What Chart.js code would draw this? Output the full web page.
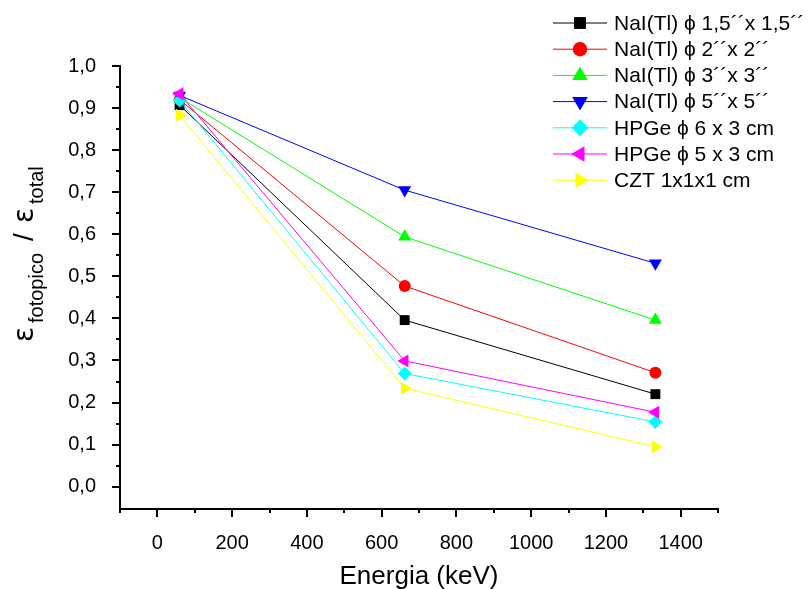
<!DOCTYPE html>
<html>
<head>
<meta charset="utf-8">
<script src="https://cdn.jsdelivr.net/npm/chart.js@4.4.0/dist/chart.umd.min.js"></script>
<style>
  html, body { margin: 0; padding: 0; background: #fff; }
  #wrap { width: 808px; height: 589px; position: relative; }
</style>
</head>
<body>
<div id="wrap"><canvas id="mainChart" width="808" height="589"></canvas></div>
<script>
// --- Data ---
const energies = [59.5, 661.7, 1332.5];

const seriesNames = [
  'NaI(Tl) \u03D5 1,5\u00B4\u00B4x 1,5\u00B4\u00B4',
  'NaI(Tl) \u03D5 2\u00B4\u00B4x 2\u00B4\u00B4',
  'NaI(Tl) \u03D5 3\u00B4\u00B4x 3\u00B4\u00B4',
  'NaI(Tl) \u03D5 5\u00B4\u00B4x 5\u00B4\u00B4',
  'HPGe \u03D5 6 x 3 cm',
  'HPGe \u03D5 5 x 3 cm',
  'CZT 1x1x1 cm'
];

const nai15 = [0.907, 0.396, 0.220];
const nai2  = [0.920, 0.477, 0.271];
const nai3  = [0.925, 0.594, 0.396];
const nai5  = [0.930, 0.705, 0.531];
const hpge6 = [0.918, 0.269, 0.154];
const hpge5 = [0.934, 0.299, 0.177];
const czt   = [0.883, 0.234, 0.095];

const xTickValues = [0, 200, 400, 600, 800, 1000, 1200, 1400];
const yTickValues = [0, 0.1, 0.2, 0.3, 0.4, 0.5, 0.6, 0.7, 0.8, 0.9, 1.0];

// --- Styles ---
const FONT = '"Liberation Sans", Arial, sans-serif';
const styles = [
  { color: '#000000', pointStyle: 'rect',     radius: 7,   rotation: 0 },
  { color: '#ff0000', pointStyle: 'circle',   radius: 6,   rotation: 0 },
  { color: '#00ff00', pointStyle: 'triangle', radius: 7.5, rotation: 0 },
  { color: '#0000ff', pointStyle: 'triangle', radius: 7.5, rotation: 180 },
  { color: '#00ffff', pointStyle: 'rectRot',  radius: 7,   rotation: 0 },
  { color: '#ff00ff', pointStyle: 'triangle', radius: 7.5, rotation: -90 },
  { color: '#ffff00', pointStyle: 'triangle', radius: 7.5, rotation: 90 }
];
const seriesValues = [nai15, nai2, nai3, nai5, hpge6, hpge5, czt];

const datasets = seriesValues.map((vals, i) => ({
  label: seriesNames[i],
  data: energies.map((e, j) => ({ x: e, y: vals[j] })),
  borderColor: styles[i].color,
  backgroundColor: styles[i].color,
  borderWidth: 1,
  pointStyle: styles[i].pointStyle,
  pointRadius: styles[i].radius,
  pointRotation: styles[i].rotation,
  pointBorderWidth: 0,
  pointHoverRadius: styles[i].radius,
  tension: 0,
  order: seriesValues.length - i // later series drawn on top
}));

// --- Decorations: ticks, legend, axis titles ---
const decor = {
  id: 'decor',
  afterDraw(chart) {
    const ctx = chart.ctx;
    const xs = chart.scales.x, ys = chart.scales.y;
    const area = chart.chartArea;
    ctx.save();
    ctx.strokeStyle = '#000';
    ctx.lineWidth = 2;
    ctx.beginPath();
    for (let v = -100; v <= 1500; v += 100) {
      const px = Math.round(xs.getPixelForValue(v));
      const len = (v % 200 === 0) ? 8 : 4;
      ctx.moveTo(px, area.bottom);
      ctx.lineTo(px, area.bottom + len);
    }
    for (let k = 0; k <= 20; k++) {
      const py = Math.round(ys.getPixelForValue(k * 0.05));
      const len = (k % 2 === 0) ? 8 : 4;
      ctx.moveTo(area.left, py);
      ctx.lineTo(area.left - len, py);
    }
    ctx.stroke();

    // legend
    const lx0 = 553, lx1 = 607, mx = 580, tx = 614;
    const ly0 = 23, lstep = 26.2;
    ctx.font = '21px ' + FONT;
    ctx.textBaseline = 'middle';
    ctx.textAlign = 'left';
    chart.data.datasets.forEach((ds, i) => {
      const yy = ly0 + i * lstep;
      ctx.strokeStyle = ds.borderColor;
      ctx.lineWidth = 1;
      ctx.beginPath();
      ctx.moveTo(lx0, yy);
      ctx.lineTo(lx1, yy);
      ctx.stroke();
      ctx.fillStyle = ds.backgroundColor;
      Chart.helpers.drawPoint(ctx, {
        pointStyle: ds.pointStyle, radius: ds.pointRadius * 1.2,
        rotation: ds.pointRotation, borderWidth: 0
      }, mx, yy);
      ctx.fillStyle = '#000';
      ctx.fillText(ds.label, tx, yy + 1);
    });

    // x title
    ctx.fillStyle = '#000';
    ctx.font = '26px ' + FONT;
    ctx.textAlign = 'center';
    ctx.textBaseline = 'alphabetic';
    ctx.fillText('Energia (keV)', (area.left + area.right) / 2, 584);

    // y title with subscripts, rotated (reads bottom to top)
    ctx.save();
    ctx.translate(33, 343);
    ctx.rotate(-Math.PI / 2);
    ctx.textAlign = 'left';
    const eps = '28px "DejaVu Sans", sans-serif';
    const big = '28px ' + FONT, small = '20px ' + FONT;
    ctx.font = eps;   ctx.fillText('\u03B5', 1, 0);
    ctx.font = small; ctx.fillText('fotopico', 20, 10);
    ctx.font = big;   ctx.fillText('/', 102, 0);
    ctx.font = eps;   ctx.fillText('\u03B5', 120, 0);
    ctx.font = small; ctx.fillText('total', 139, 10);
    ctx.restore();

    ctx.restore();
  }
};

const canvas = document.getElementById('mainChart');
new Chart(canvas.getContext('2d'), {
  type: 'line',
  data: { datasets },
  options: {
    responsive: false,
    animation: false,
    events: [],
    layout: { padding: { top: 66, right: 90, bottom: 0, left: 0 } },
    plugins: { legend: { display: false }, tooltip: { enabled: false }, title: { display: false } },
    scales: {
      x: {
        type: 'linear',
        min: -100, max: 1500,
        afterBuildTicks: (s) => { s.ticks = xTickValues.map(v => ({ value: v })); },
        afterFit: (s) => { s.height = 80; },
        grid: { display: false },
        border: { display: true, color: '#000', width: 2 },
        ticks: { color: '#000', font: { family: FONT, size: 20 }, padding: 14, maxRotation: 0,
                 callback: (v) => String(v) }
      },
      y: {
        type: 'linear',
        min: -0.053, max: 1.0,
        afterBuildTicks: (s) => { s.ticks = yTickValues.map(v => ({ value: v })); },
        afterFit: (s) => { s.width = 120; },
        grid: { display: false },
        border: { display: true, color: '#000', width: 2 },
        ticks: { color: '#000', font: { family: FONT, size: 20 }, padding: 16,
                 callback: (v) => (Math.round(v * 10) / 10).toFixed(1).replace('.', ',') }
      }
    }
  },
  plugins: [decor]
});
</script>
</body>
</html>
